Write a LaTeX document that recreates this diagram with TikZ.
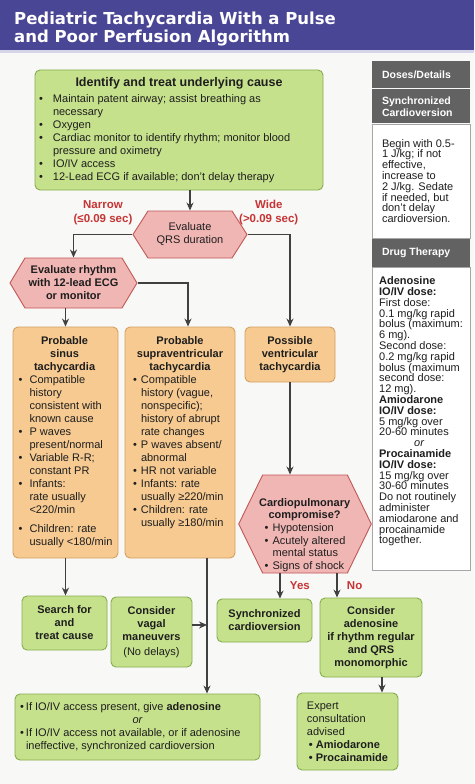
\documentclass[tikz,border=0pt]{standalone}
\usepackage{fontspec}
\setmainfont{Liberation Sans}
\newfontfamily\titlefont{DejaVu Sans}
\usetikzlibrary{positioning,shapes.symbols,arrows.meta}

\definecolor{band}{RGB}{74,70,150}
\definecolor{bandrule}{RGB}{214,212,232}
\definecolor{pagebg}{RGB}{248,248,246}
\definecolor{grnfill}{RGB}{198,225,140}
\definecolor{grnline}{RGB}{135,172,78}
\definecolor{orgfill}{RGB}{246,202,145}
\definecolor{orgline}{RGB}{212,160,100}
\definecolor{pnkfill}{RGB}{240,182,180}
\definecolor{pnkline}{RGB}{192,88,88}
\definecolor{lblred}{RGB}{198,52,52}
\definecolor{hdrgray}{RGB}{98,98,98}
\definecolor{ink}{RGB}{30,30,30}

% bullet, hanging indent and centred heading line inside boxes
\newcommand{\bl}[1][12pt]{\makebox[#1][l]{\textbullet}}
\newcommand{\ind}[1][12pt]{\hspace*{#1}}
\newcommand{\hd}[2]{\makebox[#1]{\bfseries #2}}

\begin{document}
\begin{tikzpicture}[
  x=1pt, y=-1pt,
  every node/.style={text=ink, font=\fontsize{11}{13}\selectfont},
  bold/.style={font=\fontsize{11}{13}\selectfont\bfseries},
  gbox/.style={draw=grnline, fill=grnfill, rounded corners=5pt, line width=0.9pt, align=center, inner sep=3pt},
  obox/.style={draw=orgline, fill=orgfill, rounded corners=5pt, line width=0.9pt, align=center, inner sep=3pt},
  hexa/.style={shape=signal, signal to=east and west, draw=pnkline, fill=pnkfill, line width=0.9pt, align=center, inner sep=2pt},
  hdr/.style={fill=hdrgray, minimum width=98pt, text width=78pt, align=flush left, inner ysep=0pt, text=white, font=\fontsize{10.5}{12}\selectfont\bfseries},
  body/.style={draw=gray!70, fill=white, minimum width=98pt, align=left, line width=0.8pt, font=\fontsize{11}{10.8}\selectfont},
  lbl/.style={text=lblred, font=\fontsize{11.5}{14}\selectfont\bfseries, align=center},
  arr/.style={-{Stealth[length=8pt,width=7pt]}, line width=1.3pt, draw=ink!85}
]
\fill[pagebg] (0,0) rectangle (474,784);
\useasboundingbox (0,0) rectangle (474,784);
\fill[band] (0,0) rectangle (474,50);
\fill[bandrule] (0,50) rectangle (474,53);
\node[anchor=north west, inner sep=0pt, align=left, text=white, font=\titlefont\bfseries\fontsize{16.5}{18}\selectfont] (title) at (14,12) {Pediatric Tachycardia With a Pulse\\and Poor Perfusion Algorithm};

% main flow
\node[gbox, minimum width=288pt, minimum height=120pt, align=left] (cause) at (179,130) {%
  \hd{280pt}{\fontsize{12.5}{15}\selectfont Identify and treat underlying cause}\\[3pt]
  \bl[14pt]Maintain patent airway; assist breathing as\\
  \ind[14pt]necessary\\
  \bl[14pt]Oxygen\\
  \bl[14pt]Cardiac monitor to identify rhythm; monitor blood\\
  \ind[14pt]pressure and oximetry\\
  \bl[14pt]IO/IV access\\
  \bl[14pt]12-Lead ECG if available; don’t delay therapy};

\node[hexa, signal pointer angle=115, minimum width=114pt, minimum height=47pt] (qrs) at (190,234.5) {Evaluate\\QRS duration};
\node[hexa, bold, signal pointer angle=118, minimum width=127pt, minimum height=50pt] (rhythm) at (73.5,283) {Evaluate rhythm\\with 12-lead ECG\\or monitor};

\node[obox, minimum width=105pt, minimum height=231pt, align=left] (sinus) at (65.5,442.5) {%
  \hd{92pt}{Probable}\\
  \hd{92pt}{sinus}\\
  \hd{92pt}{tachycardia}\\
  \bl[11pt]Compatible\\
  \ind[11pt]history\\
  \ind[11pt]consistent with\\
  \ind[11pt]known cause\\
  \bl[11pt]P waves\\
  \ind[11pt]present/normal\\
  \bl[11pt]Variable R-R;\\
  \ind[11pt]constant PR\\
  \bl[11pt]Infants:\\
  \ind[11pt]rate usually\\
  \ind[11pt]<220/min\\[6pt]
  \bl[11pt]Children: rate\\
  \ind[11pt]usually <180/min};

\node[obox, minimum width=110pt, minimum height=231pt, align=left] (svt) at (180,442.5) {%
  \hd{94pt}{Probable}\\
  \hd{94pt}{supraventricular}\\
  \hd{94pt}{tachycardia}\\
  \bl[8pt]Compatible\\
  \ind[8pt]history (vague,\\
  \ind[8pt]nonspecific);\\
  \ind[8pt]history of abrupt\\
  \ind[8pt]rate changes\\
  \bl[8pt]P waves absent/\\
  \ind[8pt]abnormal\\
  \bl[8pt]HR not variable\\
  \bl[8pt]Infants: rate\\
  \ind[8pt]usually ≥220/min\\
  \bl[8pt]Children: rate\\
  \ind[8pt]usually ≥180/min\\[8pt]
  \mbox{}};

\node[obox, bold, minimum width=90pt, minimum height=55pt] (vt) at (290,354.5) {Possible\\ventricular\\tachycardia};

\node[hexa, signal pointer angle=128, minimum width=132pt, minimum height=98pt, inner ysep=0pt, align=left, font=\fontsize{11}{12.6}\selectfont] (cpc) at (305,524) {%
  \rule{0pt}{30pt}\hd{80pt}{Cardiopulmonary}\\
  \hd{80pt}{compromise?}\\
  \bl[8pt]Hypotension\\
  \bl[8pt]Acutely altered\\
  \ind[8pt]mental status\\
  \bl[8pt]Signs of shock};

\node[gbox, bold, minimum width=85pt, minimum height=54pt] (search) at (64.5,623) {Search for\\and\\treat cause};
\node[gbox, bold, minimum width=81pt, minimum height=70pt] (vagal) at (151.5,632) {Consider\\vagal\\maneuvers\\[2pt]\mdseries(No delays)};
\node[gbox, bold, minimum width=95pt, minimum height=43pt] (sync) at (264.5,620.5) {Synchronized\\cardioversion};
\node[gbox, bold, minimum width=102pt, minimum height=79pt] (cons) at (371,637.5) {Consider\\adenosine\\if rhythm regular\\and QRS\\monomorphic};
\node[gbox, minimum width=101pt, minimum height=77pt, align=left] (expert) at (347.5,731.5) {Expert\\consultation\\advised\\
  \textbf{\hspace*{2pt}\textbullet\ Amiodarone}\\
  \textbf{\hspace*{2pt}\textbullet\ Procainamide}};
\node[gbox, minimum width=245pt, minimum height=66pt, align=left] (adenos) at (137.5,727) {%
  \bl[6pt]If IO/IV access present, give \textbf{adenosine}\\
  \makebox[235pt]{\itshape or}\\
  \bl[6pt]If IO/IV access not available, or if adenosine\\
  \ind[6pt]ineffective, synchronized cardioversion};

% side panel
\node[hdr, minimum height=27pt] (doses) at (421,74.5) {Doses/Details};
\node[hdr, minimum height=34pt, below=1pt of doses] (synchd) {Synchronized\\Cardioversion};
\node[body, minimum height=114pt, below=0pt of synchd] (syncbody) {\makebox[78pt][l]{Begin with 0.5-}\\1 J/kg; if not\\effective,\\increase to\\2 J/kg. Sedate\\if needed, but\\don’t delay\\cardioversion.};
\node[hdr, minimum height=28pt, below=0pt of syncbody] (drughd) {Drug Therapy};
\node[body, minimum height=303pt, below=0pt of drughd] (drugbody) {%
  \textbf{Adenosine}\\
  \textbf{IO/IV dose:}\\
  First dose:\\
  0.1 mg/kg rapid\\
  bolus (maximum:\\
  6 mg).\\
  Second dose:\\
  0.2 mg/kg rapid\\
  bolus (maximum\\
  second dose:\\
  12 mg).\\
  \textbf{Amiodarone}\\
  \textbf{IO/IV dose:}\\
  5 mg/kg over\\
  20-60 minutes\\
  \makebox[80pt]{\itshape or}\\
  \textbf{Procainamide}\\
  \textbf{IO/IV dose:}\\
  15 mg/kg over\\
  30-60 minutes\\
  Do not routinely\\
  administer\\
  amiodarone and\\
  procainamide\\
  together.\\[6pt]
  \mbox{}};

% connectors
\draw[arr] (qrs.north |- cause.south) -- (qrs.north);
\draw[arr] (qrs.west) -| node[lbl, pos=0.25, above=6pt]{Narrow\\(≤0.09 sec)} (rhythm.north);
\draw[arr] (qrs.east) -| node[lbl, pos=0.25, above=6pt]{Wide\\(>0.09 sec)} (vt.north);
\draw[arr] (rhythm.east) -| ([xshift=8pt]svt.north);
\draw[arr] (sinus.north |- rhythm.south) -- (sinus.north);
\draw[arr] (sinus.south) -- (sinus.south |- search.north);
\coordinate (svtout) at ([xshift=27pt]svt.south);
\draw[arr] (svtout) -- (svtout |- adenos.north);
\draw[arr] ([yshift=7pt]vagal.east) -- ([yshift=7pt]vagal.east -| svtout);
\draw[arr] (vt.south) -- (vt.south |- cpc.north);
\draw[arr] ([xshift=-25pt]cpc.south) -- ([xshift=-25pt]cpc.south |- sync.north) node[lbl, midway, right=6pt]{Yes};
\draw[arr] ([xshift=32pt]cpc.south) -- ([xshift=32pt]cpc.south |- cons.north) node[lbl, midway, right=6pt]{No};
\draw[arr] ([xshift=11pt]cons.south) -- ([xshift=11pt]cons.south |- expert.north);
\end{tikzpicture}
\end{document}
